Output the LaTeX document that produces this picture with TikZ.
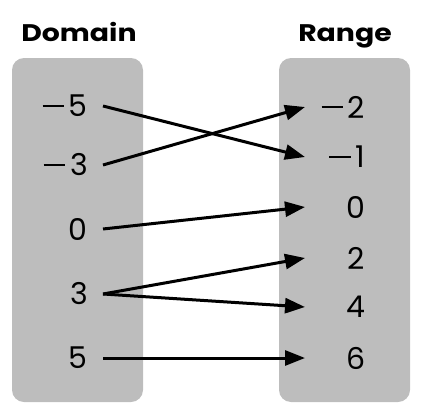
\documentclass[tikz,border=0pt]{standalone}
\usepackage{fontspec}
\setmainfont{Poppins}
\newfontfamily\titlefont{Poppins}[FakeStretch=1.18]
\usetikzlibrary{arrows.meta}
\definecolor{boxgray}{RGB}{189,189,189}
\newcommand{\mn}{\rule[0.33em]{0.72em}{0.07em}\kern0.16em}

\begin{document}
\begin{tikzpicture}[x=1pt,y=-1pt,
    every node/.style={font=\fontsize{30}{32}\selectfont},
    dom/.style={anchor=east,text width=60pt,align=right,inner xsep=15pt,inner ysep=0pt},
    ran/.style={anchor=west,text width=58pt,align=right,inner xsep=2pt,inner ysep=0pt},
    title/.style={anchor=base,font=\titlefont\bfseries\fontsize{24}{26}\selectfont},
    maps/.style={line width=3pt,-{Triangle[length=20pt,width=15pt]}}]
  \useasboundingbox (0,0) rectangle (423,415);
  \fill[boxgray,rounded corners=12pt] (12,58) rectangle (143,402);
  \fill[boxgray,rounded corners=12pt] (279,58) rectangle (410,402);
  \node[title] (domlabel) at (79,41) {Domain};
  \node[title] (ranlabel) at (345,41) {Range};
  % domain values
  \node[dom] (dm5) at (103,106) {\mn5};
  \node[dom] (dm3) at (103,165) {\mn3};
  \node[dom] (d0) at (103,229) {0};
  \node[dom] (d3) at (103,294) {3};
  \node[dom] (d5) at (103,358) {5};
  % range values
  \node[ran] (rm2) at (305,107) {\mn2};
  \node[ran] (rm1) at (305,157) {\mn1};
  \node[ran] (r0) at (305,207) {0};
  \node[ran] (r2) at (305,258) {2};
  \node[ran] (r4) at (305,307) {4};
  \node[ran] (r6) at (305,358) {6};
  \draw[maps] (dm5.east) -- (rm1.west);
  \draw[maps] (dm3.east) -- (rm2.west);
  \draw[maps] (d0.east) -- (r0.west);
  \draw[maps] (d3.east) -- (r2.west);
  \draw[maps] (d3.east) -- (r4.west);
  \draw[maps] (d5.east) -- (r6.west);
\end{tikzpicture}
\end{document}
